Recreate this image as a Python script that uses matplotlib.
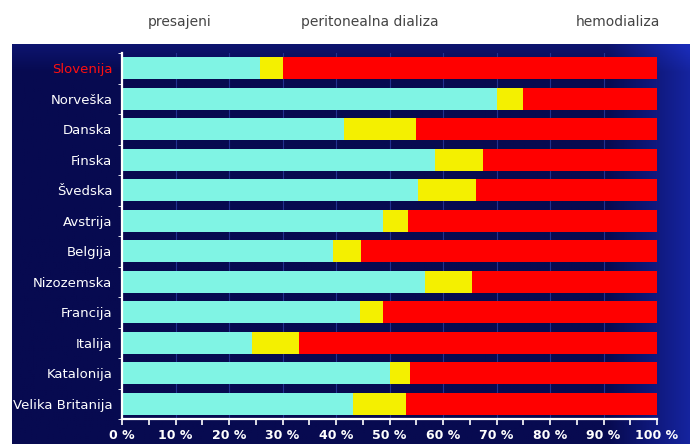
import numpy as np
import matplotlib
matplotlib.use("Agg")
import matplotlib.pyplot as plt
from matplotlib.ticker import MultipleLocator, FuncFormatter

countries = ["Slovenija", "Norveška", "Danska", "Finska", "Švedska", "Avstrija",
             "Belgija", "Nizozemska", "Francija", "Italija", "Katalonija",
             "Velika Britanija"]
presajeni = [25.8, 70.0, 41.5, 58.5, 55.3, 48.8, 39.5, 56.6, 44.5, 24.3, 50.1, 43.2]
peritonealna = [4.2, 5.0, 13.5, 9.0, 10.9, 4.7, 5.2, 8.8, 4.3, 8.8, 3.7, 9.9]
hemodializa = [100 - a - b for a, b in zip(presajeni, peritonealna)]
series_names = ["presajeni", "peritonealna dializa", "hemodializa"]
x_ticks = [0, 10, 20, 30, 40, 50, 60, 70, 80, 90, 100]

plt.rcParams["font.family"] = ["DejaVu Sans"]

W, H = 697, 444
fig = plt.figure(figsize=(W / 100, H / 100), dpi=100)
fig.patch.set_facecolor("white")

# dark navy panel with a brighter blue glow on the right
bg = fig.add_axes([12 / W, 0, (690 - 12) / W, 1 - 44 / H])
xx = np.linspace(0, 1, 300)
yy = np.linspace(0, 1, 200)
X, Y = np.meshgrid(xx, yy)
glow = np.clip((X - 0.88) / 0.12, 0, 1) * 0.75 + np.clip((Y - 0.93) / 0.07, 0, 1) * 0.3
c0 = np.array([0x07, 0x0a, 0x50]) / 255
c1 = np.array([0x1a, 0x2c, 0xb8]) / 255
img = c0[None, None, :] + (c1 - c0)[None, None, :] * np.clip(glow, 0, 1)[:, :, None]
bg.imshow(img, aspect="auto", extent=[0, 1, 0, 1], origin="lower")
bg.set_axis_off()

ax = fig.add_axes([122 / W, 1 - 419 / H, (657 - 122) / W, (419 - 53) / H])
ax.set_facecolor("none")

y = np.arange(len(countries))
colors = ["#80f4e4", "#f4f000", "#ff0000"]
left = np.zeros(len(countries))
for vals, col, name in zip([presajeni, peritonealna, hemodializa], colors, series_names):
    ax.barh(y, vals, left=left, height=0.72, color=col, edgecolor="none", label=name, zorder=2)
    left += np.array(vals)

ax.set_ylim(len(countries) - 0.5, -0.5)
ax.set_xlim(0, 100)

ax.set_xticks(x_ticks)
ax.xaxis.set_minor_locator(MultipleLocator(5))
ax.xaxis.set_major_formatter(FuncFormatter(lambda v, p: f"{int(v)} %"))
ax.tick_params(axis="x", which="both", colors="white", direction="out", labelsize=9,
               pad=3, length=4, width=1.2)
for lab in ax.get_xticklabels():
    lab.set_fontweight("bold")

ax.set_yticks(y)
ax.set_yticklabels(countries)
ax.set_yticks(np.arange(-0.5, len(countries), 1), minor=True)
ax.tick_params(axis="y", which="major", length=0, pad=7, labelsize=9.5, labelcolor="white")
ax.tick_params(axis="y", which="minor", length=3, color="white", direction="out")
ax.get_yticklabels()[0].set_color("#ff1010")

ax.grid(axis="x", color="#22318f", linewidth=0.8, zorder=0)
for s in ["top", "right"]:
    ax.spines[s].set_visible(False)
for s in ["left", "bottom"]:
    ax.spines[s].set_color("white")
    ax.spines[s].set_linewidth(1.6)

# series names printed above the panel
for name, xpix in zip(series_names, [180, 370, 618]):
    fig.text(xpix / W, 1 - 22 / H, name, ha="center", va="center",
             fontsize=10, color="#444444")

fig.savefig("out.png", dpi=100, facecolor="white")
